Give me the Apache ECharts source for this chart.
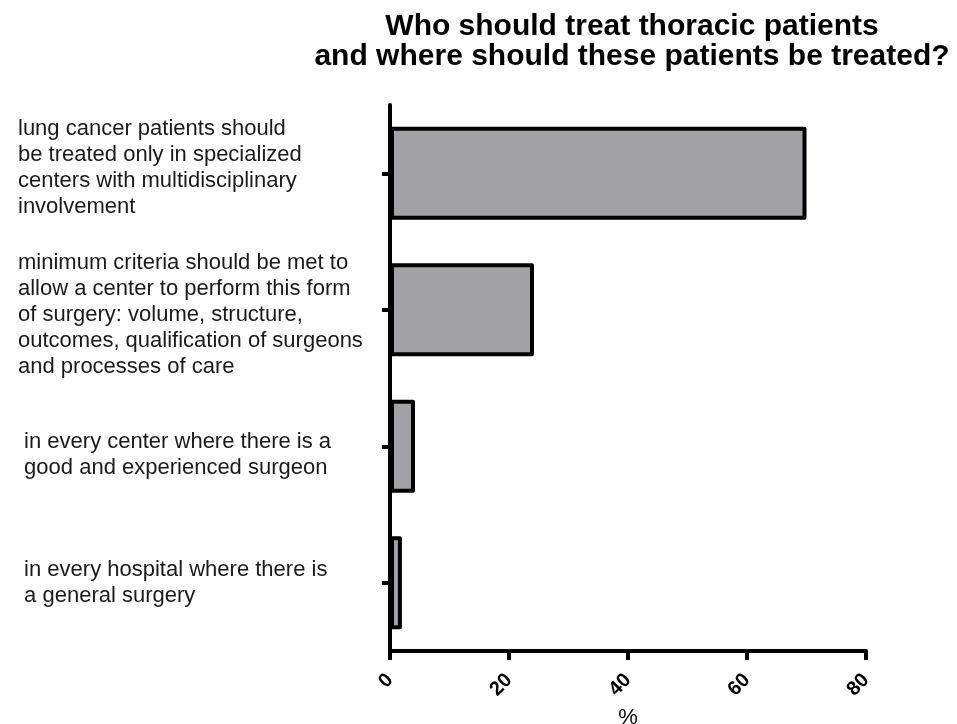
<!DOCTYPE html>
<html>
<head>
<meta charset="utf-8">
<script src="https://cdn.jsdelivr.net/npm/echarts@6/dist/echarts.min.js"></script>
<style>html,body{margin:0;padding:0;background:#fff}#c{width:957px;height:724px}</style>
</head>
<body>
<div id="c"></div>
<script>
var categories = [
  "lung cancer patients should\nbe treated only in specialized\ncenters with multidisciplinary\ninvolvement",
  "minimum criteria should be met to\nallow a center to perform this form\nof surgery: volume, structure,\noutcomes, qualification of surgeons\nand processes of care",
  " in every center where there is a\n good and experienced surgeon",
  " in every hospital where there is\n a general surgery"
];
var values = [70, 24.2, 4.2, 2];
var xTicks = [0, 20, 40, 60, 80];

// vertical offset of each label block (px): positive = down
var labelShift = [-10, 10, 18, 0];

var chart = echarts.init(document.getElementById('c'));
chart.setOption({
  animation: false,
  title: {
    text: 'Who should treat thoracic patients\nand where should these patients be treated?',
    left: 627, top: 7, textAlign: 'center',
    textStyle: { fontFamily: 'Liberation Sans', fontWeight: 'bold', fontSize: 30, lineHeight: 30, color: '#000' }
  },
  grid: { left: 390, right: 91, top: 105, bottom: 73, containLabel: false, outerBoundsMode: 'none' },
  xAxis: {
    type: 'value', min: 0, max: 80, interval: 20,
    name: '%', nameLocation: 'middle', nameGap: 51,
    nameTextStyle: { fontFamily: 'Liberation Sans', fontSize: 22, color: '#000' },
    splitLine: { show: false },
    axisLine: { show: true, lineStyle: { color: '#000', width: 4 } },
    axisTick: { show: true, length: 9, lineStyle: { color: '#000', width: 4 } },
    axisLabel: {
      rotate: 45, margin: 26, color: '#000', fontFamily: 'Liberation Sans', fontWeight: 'bold', fontSize: 20,
      formatter: function (v) { return xTicks.indexOf(v) >= 0 ? String(v) : ''; }
    }
  },
  yAxis: {
    type: 'category', data: categories, inverse: true,
    axisLine: { show: true, lineStyle: { color: '#000', width: 4 } },
    axisTick: { show: true, alignWithLabel: true, length: 8, lineStyle: { color: '#000', width: 4 } },
    axisLabel: {
      align: 'left', margin: 372, color: '#1a1a1a', fontFamily: 'Liberation Sans', fontSize: 22, lineHeight: 26,
      formatter: function (value, index) {
        var lines = value.split('\n').map(function (l) { return '{t|' + l + '}'; });
        var s = labelShift[index];
        if (s > 0) lines.unshift('{s' + s + '| }');
        if (s < 0) lines.push('{s' + (-s) + '| }');
        return lines.join('\n');
      },
      rich: {
        t: { fontFamily: 'Liberation Sans', fontSize: 22, lineHeight: 26, color: '#1a1a1a', align: 'left' },
        s10: { fontSize: 1, lineHeight: 10 },
        s18: { fontSize: 1, lineHeight: 18 }
      }
    }
  },
  series: [{
    type: 'bar', data: values, barCategoryGap: '32%',
    itemStyle: { color: '#a2a1a6', borderColor: '#000', borderWidth: 4, borderJoin: 'round' }
  }]
});
</script>
</body>
</html>
